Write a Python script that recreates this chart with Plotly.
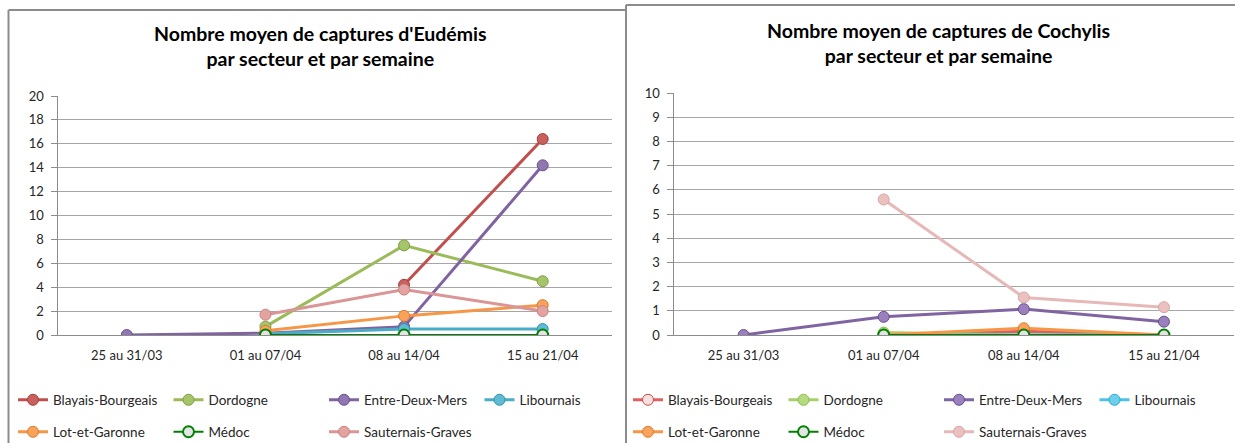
import plotly.graph_objects as go

weeks = ["25 au 31/03", "01 au 07/04", "08 au 14/04", "15 au 21/04"]
sectors = ["Blayais-Bourgeais", "Dordogne", "Entre-Deux-Mers", "Libournais",
           "Lot-et-Garonne", "Médoc", "Sauternais-Graves"]

# Eudémis (left chart)
eud_blayais = [None, None, 4.2, 16.4]
eud_dordogne = [None, 0.7, 7.5, 4.5]
eud_edm = [0, 0.15, 0.7, 14.2]
eud_libournais = [None, 0.1, 0.5, 0.5]
eud_lot = [None, 0.35, 1.6, 2.5]
eud_medoc = [None, 0, 0, 0]
eud_sauternais = [None, 1.7, 3.8, 2.0]

# Cochylis (right chart)
coc_blayais = [None, 0, 0.15, 0]
coc_dordogne = [None, 0.1, 0, 0]
coc_edm = [0, 0.75, 1.07, 0.55]
coc_libournais = [None, 0, 0, 0]
coc_lot = [None, 0, 0.28, 0]
coc_medoc = [None, 0, 0, 0]
coc_sauternais = [None, 5.6, 1.55, 1.15]

title_left = "Nombre moyen de captures d'Eudémis<br>par secteur et par semaine"
title_right = "Nombre moyen de captures de Cochylis<br>par secteur et par semaine"

FONT = "Lato, 'Open Sans', sans-serif"
W, H = 1235, 443

# styles: (line colour, marker fill, marker border, line width)
left_styles = [
    ("#C0504D", "#C9605D", "#A33F3C", 3),
    ("#9BBB59", "#A6C56A", "#7F9E43", 3),
    ("#8064A2", "#9177B2", "#6A5088", 3),
    ("#4BACC6", "#5FBBD4", "#3591AA", 3),
    ("#F79646", "#F8A25C", "#D97C30", 3),
    ("#008000", "#E4E4E4", "#008000", 2),
    ("#D99694", "#E2A3A1", "#C98381", 3),
]
right_styles = [
    ("#E06060", "#F6E0E0", "#D04848", 3),
    ("#A8D06A", "#B6DA80", "#8CBB48", 3),
    ("#8064A2", "#9A80BE", "#6A5088", 3),
    ("#4BC3E3", "#6BD0EC", "#32A8C8", 3),
    ("#F79646", "#FBA35A", "#DB7C30", 3),
    ("#008000", "#E4E4E4", "#008000", 2),
    ("#E6B9B8", "#EBC1C0", "#D5A5A4", 3),
]

left_data = [eud_blayais, eud_dordogne, eud_edm, eud_libournais, eud_lot, eud_medoc, eud_sauternais]
right_data = [coc_blayais, coc_dordogne, coc_edm, coc_libournais, coc_lot, coc_medoc, coc_sauternais]

fig = go.Figure()

def add_series(data, styles, xa, ya, legends):
    for i, (name, vals, st) in enumerate(zip(sectors, data, styles)):
        lc, mf, mb, lw = st
        fig.add_trace(go.Scatter(
            x=weeks, y=vals, name=name, mode="lines+markers",
            xaxis=xa, yaxis=ya,
            line=dict(color=lc, width=lw),
            marker=dict(size=11, color=mf, line=dict(color=mb, width=2 if name == "Médoc" else 1)),
            legend=legends[0] if i < 4 else legends[1],
            connectgaps=False, hoverinfo="skip",
        ))

add_series(left_data, left_styles, "x", "y", ["legend", "legend2"])
add_series(right_data, right_styles, "x2", "y2", ["legend3", "legend4"])

def px_x(p):
    return p / W

def px_y(p):
    return 1 - p / H

grid = "#A6A6A6"
axis_common = dict(
    showgrid=True, gridcolor=grid, gridwidth=1,
    showline=True, linecolor="#8C8C8C", linewidth=1,
    ticks="outside", ticklen=6, tickcolor="#8C8C8C",
    tickfont=dict(family=FONT, size=13, color="#262626"),
    ticklabelstandoff=4,
    zeroline=False, fixedrange=True,
)
xcommon = dict(
    showgrid=False, showline=True, linecolor="#8C8C8C", linewidth=1,
    ticks="", tickfont=dict(family=FONT, size=13, color="#262626"),
    ticklabelstandoff=8,
    range=[-0.5, 3.5], fixedrange=True, type="category",
)

fig.update_layout(
    width=W, height=H,
    margin=dict(l=0, r=0, t=0, b=0, autoexpand=False),
    paper_bgcolor="white", plot_bgcolor="white",
    font=dict(family=FONT, size=13, color="#262626"),
    xaxis=dict(domain=[px_x(57.5), px_x(612)], anchor="y", **xcommon),
    yaxis=dict(domain=[px_y(335), px_y(96)], anchor="x", range=[0, 20], dtick=2, **axis_common),
    xaxis2=dict(domain=[px_x(673.5), px_x(1234)], anchor="y2", **xcommon),
    yaxis2=dict(domain=[px_y(335), px_y(93)], anchor="x2", range=[0, 10], dtick=1, **axis_common),
    showlegend=True,
)

leg_common = dict(orientation="h", xanchor="left", yanchor="middle",
                  entrywidth=110.5, entrywidthmode="pixels", itemwidth=30,
                  font=dict(family=FONT, size=13.5, color="#262626"),
                  bgcolor="rgba(0,0,0,0)", tracegroupgap=0, traceorder="normal")
fig.update_layout(
    legend=dict(x=px_x(13), y=px_y(400), **leg_common),
    legend2=dict(x=px_x(13), y=px_y(432), **leg_common),
    legend3=dict(x=px_x(628), y=px_y(400), **leg_common),
    legend4=dict(x=px_x(628), y=px_y(432), **leg_common),
)

fig.add_annotation(text=title_left, x=px_x(320), y=px_y(46), xref="paper", yref="paper",
                   showarrow=False, xanchor="center", yanchor="middle",
                   font=dict(family=FONT, size=19.5, color="#000000", weight="bold"))
fig.add_annotation(text=title_right, x=px_x(938), y=px_y(43), xref="paper", yref="paper",
                   showarrow=False, xanchor="center", yanchor="middle",
                   font=dict(family=FONT, size=19.5, color="#000000", weight="bold"))

# chart frames
border = "#8C8C8C"
fig.add_shape(type="line", xref="paper", yref="paper", x0=px_x(8.5), x1=px_x(626), y0=px_y(10), y1=px_y(10),
              line=dict(color=border, width=2))
fig.add_shape(type="line", xref="paper", yref="paper", x0=px_x(8.5), x1=px_x(8.5), y0=px_y(10), y1=0,
              line=dict(color=border, width=2))
fig.add_shape(type="line", xref="paper", yref="paper", x0=px_x(626), x1=px_x(626), y0=px_y(5), y1=0,
              line=dict(color=border, width=2))
fig.add_shape(type="line", xref="paper", yref="paper", x0=px_x(626), x1=1, y0=px_y(5), y1=px_y(5),
              line=dict(color=border, width=2))

post = ("document.documentElement.style.margin='0';document.body.style.margin='0';"
        "document.body.style.padding='0';document.body.style.overflow='hidden';"
        "document.documentElement.style.overflow='hidden';")
fig.write_html("out.html", post_script=post, config={"displayModeBar": False})
